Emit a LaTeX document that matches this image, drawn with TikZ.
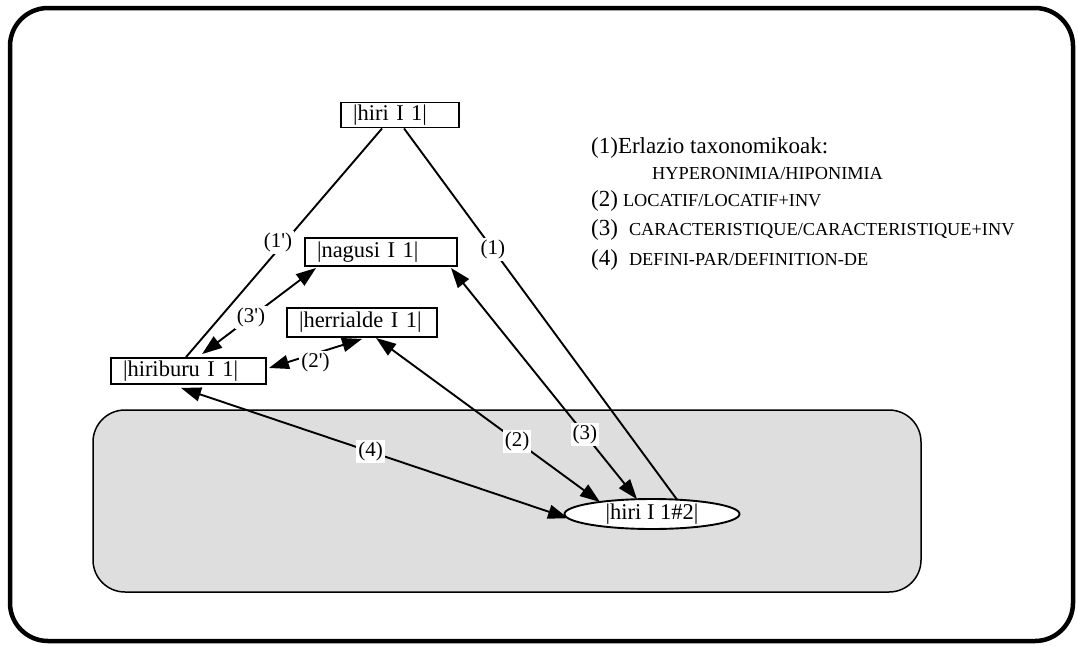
\documentclass[tikz,border=0pt]{standalone}
\usepackage{fontspec}
\setmainfont{Liberation Serif}
\newfontfamily\rawserif{Liberation Serif}[Ligatures=TeXOff]
\usetikzlibrary{arrows.meta,shapes.geometric}
\newcommand{\boxfont}{\fontsize{22.5}{25}\selectfont}
\newcommand{\labfont}{\rawserif\fontsize{21}{24}\selectfont}
\newcommand{\legfont}{\fontsize{23}{26}\selectfont}
\newcommand{\capfont}{\fontsize{18.3}{21}\selectfont}
\tikzset{
  wbox/.style={draw, line width=1.9pt, fill=white, font=\boxfont, inner xsep=12pt, inner ysep=1pt, align=left},
  oval/.style={draw, ellipse, line width=1.9pt, fill=white, font=\boxfont, inner sep=0pt},
  lab/.style={fill=white, font=\labfont, inner sep=2pt},
  plain/.style={line width=1.9pt},
  dbl/.style={line width=1.9pt, {Triangle[length=20pt,width=14pt]}-{Triangle[length=20pt,width=14pt]}},
}
\begin{document}
\begin{tikzpicture}[x=1pt,y=-1pt]
\useasboundingbox (0,0) rectangle (1078,645);
% outer frame
\draw[line width=4.5pt, rounded corners=38pt] (10,8) rectangle (1073,641);
% grey area
\draw[line width=1.5pt, fill=black!13, rounded corners=32pt] (93,410) rectangle (921,592);

% nodes
\node[wbox, text width=94pt, minimum height=25pt] (hiri) at (400,115) {|hiri I 1|};
\node[wbox, text width=128pt, minimum height=28pt] (nagusi) at (381,252) {|nagusi I 1|};
\node[wbox, text width=126pt, minimum height=29pt] (herr) at (362,322.5) {|herrialde I 1|};
\node[wbox, text width=131pt, minimum height=26pt] (hiriburu) at (188.5,371) {|hiriburu I 1|};
\node[oval, minimum width=175pt, minimum height=30pt] (hiri2) at (652,514) {|hiri I 1\#2|};

% coordinates on borders
\coordinate (h1a) at ([xshift=42pt]hiri.south west);
\coordinate (h1b) at ([xshift=64pt]hiri.south west);
\coordinate (hb1) at ([xshift=76pt]hiriburu.north west);
\coordinate (hb3) at ([xshift=92pt,yshift=3pt]hiriburu.north west);
\coordinate (hb2) at ([xshift=2pt,yshift=3pt]hiriburu.east);
\coordinate (hb4) at ([xshift=71pt,yshift=-3pt]hiriburu.south west);
\coordinate (ng3a) at ([xshift=12pt,yshift=-1pt]nagusi.south west);
\coordinate (ng3) at ([xshift=-7pt,yshift=-1pt]nagusi.south east);
\coordinate (hr2a) at ([xshift=76pt,yshift=-1pt]herr.south west);
\coordinate (hr2) at ([xshift=90pt]herr.south west);
\coordinate (e1) at ([xshift=25pt,yshift=14.4pt]hiri2.center);
\coordinate (e2) at ([xshift=-52pt,yshift=12pt]hiri2.center);
\coordinate (e3) at ([xshift=-15pt,yshift=14.8pt]hiri2.center);
\coordinate (e4) at ([xshift=-84pt,yshift=-4.2pt]hiri2.center);

% connectors
\draw[plain] (h1a) -- node[lab, pos=0.5, xshift=-6pt] {(1')} (hb1);
\draw[plain] (h1b) -- node[lab, pos=0.325] {(1)} (e1);
\draw[dbl] (ng3a) -- node[lab, pos=0.57] {(3')} (hb3);
\draw[dbl] (hr2a) -- node[lab, pos=0.5, yshift=-9pt] {(2')} (hb2);
\draw[dbl] (hr2) -- node[lab, pos=0.63] {(2)} (e2);
\draw[dbl] (ng3) -- node[lab, pos=0.72] {(3)} (e3);
\draw[dbl] (hb4) -- node[lab, pos=0.49] {(4)} (e4);

% legend
\node[anchor=base west, font=\legfont, inner sep=0pt] (l1) at (591,153) {(1)Erlazio taxonomikoak:};
\node[anchor=base west, font=\capfont, inner sep=0pt] (l1b) at (652,179) {HYPERONIMIA/HIPONIMIA};
\node[anchor=base west, font=\legfont, inner sep=0pt] (l2) at (591,206) {(2)\hspace{5pt}{\capfont LOCATIF/LOCATIF+INV}};
\node[anchor=base west, font=\legfont, inner sep=0pt] (l3) at (591,235) {(3)\hspace{11pt}{\capfont CARACTERISTIQUE/CARACTERISTIQUE+INV}};
\node[anchor=base west, font=\legfont, inner sep=0pt] (l4) at (591,265) {(4)\hspace{11pt}{\capfont DEFINI-PAR/DEFINITION-DE}};
\end{tikzpicture}
\end{document}
